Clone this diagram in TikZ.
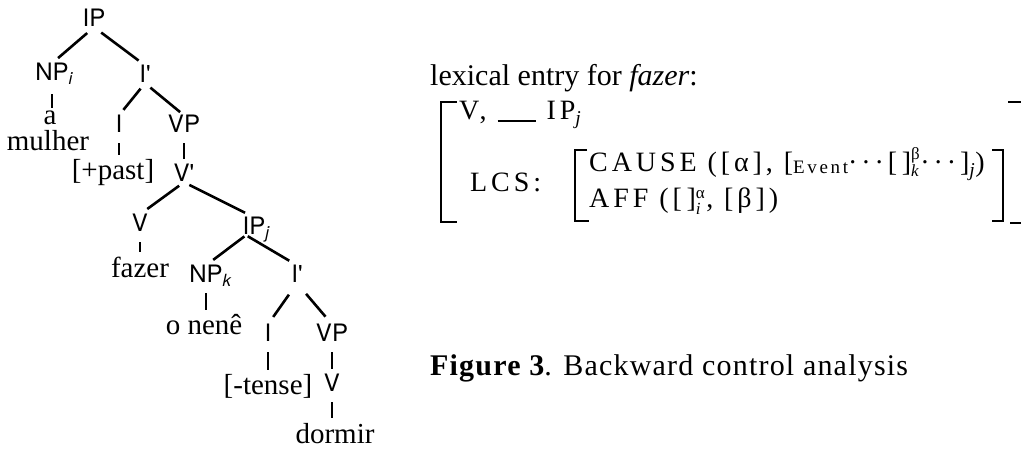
\documentclass[tikz,border=0pt]{standalone}
\usepackage{fontspec}
\setmainfont{Liberation Serif}
\newfontfamily\treefont{TeX Gyre Heros}
\newfontfamily\lcsfont[LetterSpace=14]{Liberation Serif}
\newfontfamily\capfont[LetterSpace=4]{Liberation Serif}
% superscript over subscript, text sized
\newcommand\supsub[2]{$^{\mbox{\fontsize{17}{17}\selectfont #1}}_{\mbox{\fontsize{17}{17}\selectfont\itshape #2}}$}
\begin{document}
\begin{tikzpicture}[x=1pt,y=-1pt,
  lab/.style={font=\treefont\fontsize{24}{26}\selectfont, inner sep=0pt, anchor=base},
  leaf/.style={font=\fontsize{29}{29}\selectfont, inner sep=0pt, anchor=base},
  branch/.style={line width=2.6pt, shorten <=9pt, shorten >=8pt},
  unary/.style={line width=2.6pt, shorten <=10pt, shorten >=5pt},
  txt/.style={inner sep=0pt, anchor=base west, font=\fontsize{30}{32}\selectfont},
  lcs/.style={inner sep=0pt, anchor=base west, font=\lcsfont\fontsize{28}{30}\selectfont},
  brk/.style={line width=2.6pt}]
\useasboundingbox (0,0) rectangle (1021,454);
\clip (0,0) rectangle (1021,454);

% ---- tree: category labels
\node[lab] (IP)  at (94,27)  {IP};
\node[lab] (NPi) at (52,81)  {NP\rlap{\smash{\textsubscript{\itshape i}}}};
\node[lab] (Ip1) at (145,83) {I'};
\node[lab] (I1)  at (119,133) {I};
\node[lab] (VP1) at (184,133) {VP};
\node[lab] (Vb1) at (184,182) {V'};
\node[lab] (V1)  at (140,232) {V};
\node[lab] (IPj) at (254,235) {IP\rlap{\smash{\textsubscript{\itshape j}}}};
\node[lab] (NPk) at (206,283) {NP\rlap{\smash{\textsubscript{\itshape k}}}};
\node[lab] (Ip2) at (297,283) {I'};
\node[lab] (I2)  at (268,342) {I};
\node[lab] (VP2) at (332,342) {VP};
\node[lab] (V2)  at (332,392) {V};

% ---- tree: words
\node[leaf] (art)    at (50,125)  {a};
\node[leaf] (mulher) at (48,151)  {mulher};
\node[leaf] (past)   at (113,180) {[+past]};
\node[leaf] (fazer)  at (140,278) {fazer};
\node[leaf] (nene)   at (204,335) {o nenê};
\node[leaf] (tense)  at (268,395) {[-tense]};
\node[leaf] (dormir) at (335,443) {dormir};

% ---- tree: branches
\draw[branch] (IP.south) -- (NPi.north);
\draw[branch] (IP.south) -- (Ip1.north);
\draw[branch, shorten <=7pt, shorten >=7pt] (Ip1.south) -- (I1.north);
\draw[branch, shorten <=7pt, shorten >=5pt] (Ip1.south) -- (VP1.north);
\draw[branch, shorten <=6pt, shorten >=9pt] (Vb1.south) -- (V1.north);
\draw[branch, shorten <=6pt, shorten >=10pt] (Vb1.south) -- (IPj.north);
\draw[branch, shorten <=2pt, shorten >=9pt] ([xshift=-8pt]IPj.south) -- (NPk.north);
\draw[branch, shorten <=2pt, shorten >=9pt] ([xshift=-8pt]IPj.south) -- (Ip2.north);
\draw[branch, shorten <=14pt, shorten >=9pt] (Ip2.south) -- (I2.north);
\draw[branch, shorten <=14pt, shorten >=10pt] (Ip2.south) -- (VP2.north);

% ---- tree: unary lines
\draw[unary, shorten <=13pt, shorten >=3pt] (NPi.south) -- (NPi.south |- art.north);
\draw[unary] (I1.south) -- (I1.south |- past.north);
\draw[unary] (VP1.south) -- (VP1.south |- Vb1.north);
\draw[unary] (V1.south) -- (V1.south |- fazer.north);
\draw[unary] (NPk.south) -- (NPk.south |- nene.north);
\draw[unary] (I2.south) -- (I2.south |- tense.north);
\draw[unary] (VP2.south) -- (VP2.south |- V2.north);
\draw[unary] (V2.south) -- (V2.south |- dormir.north);

% ---- lexical entry
\node[txt] (lex) at (430,86) {lexical entry for \textit{fazer}:};
\node[lcs] (sub) at (459,120) {V, \rule[-2pt]{38pt}{1.6pt} IP\textsubscript{\itshape j}};
\node[lcs] (lcsl) at (470,192) {LCS:};
\node[lcs] (cause) at (589,172) {CAUSE ([α], [\raisebox{-2pt}{\fontsize{19}{19}\selectfont Event}···[\,]\supsub{β}{k}···]\textsubscript{\itshape j})};
\node[lcs] (aff) at (589,208) {AFF ([\,]\supsub{α}{i}\kern1pt, [β])};

% brackets
\draw[brk] (457,102) -- (441,102) -- (441,222) -- (457,222);
\draw[brk] (587,150) -- (575,150) -- (575,221) -- (589,221);
\draw[brk] (992,150) -- (1003,150) -- (1003,221) -- (992,221);
\draw[brk] (1008,102) -- (1024,102) -- (1024,223) -- (1010,223);

% ---- caption
\node[txt, font=\capfont\fontsize{30}{32}\selectfont] (cap) at (430,376) {\textbf{Figure 3}. Backward control analysis};
\end{tikzpicture}
\end{document}
